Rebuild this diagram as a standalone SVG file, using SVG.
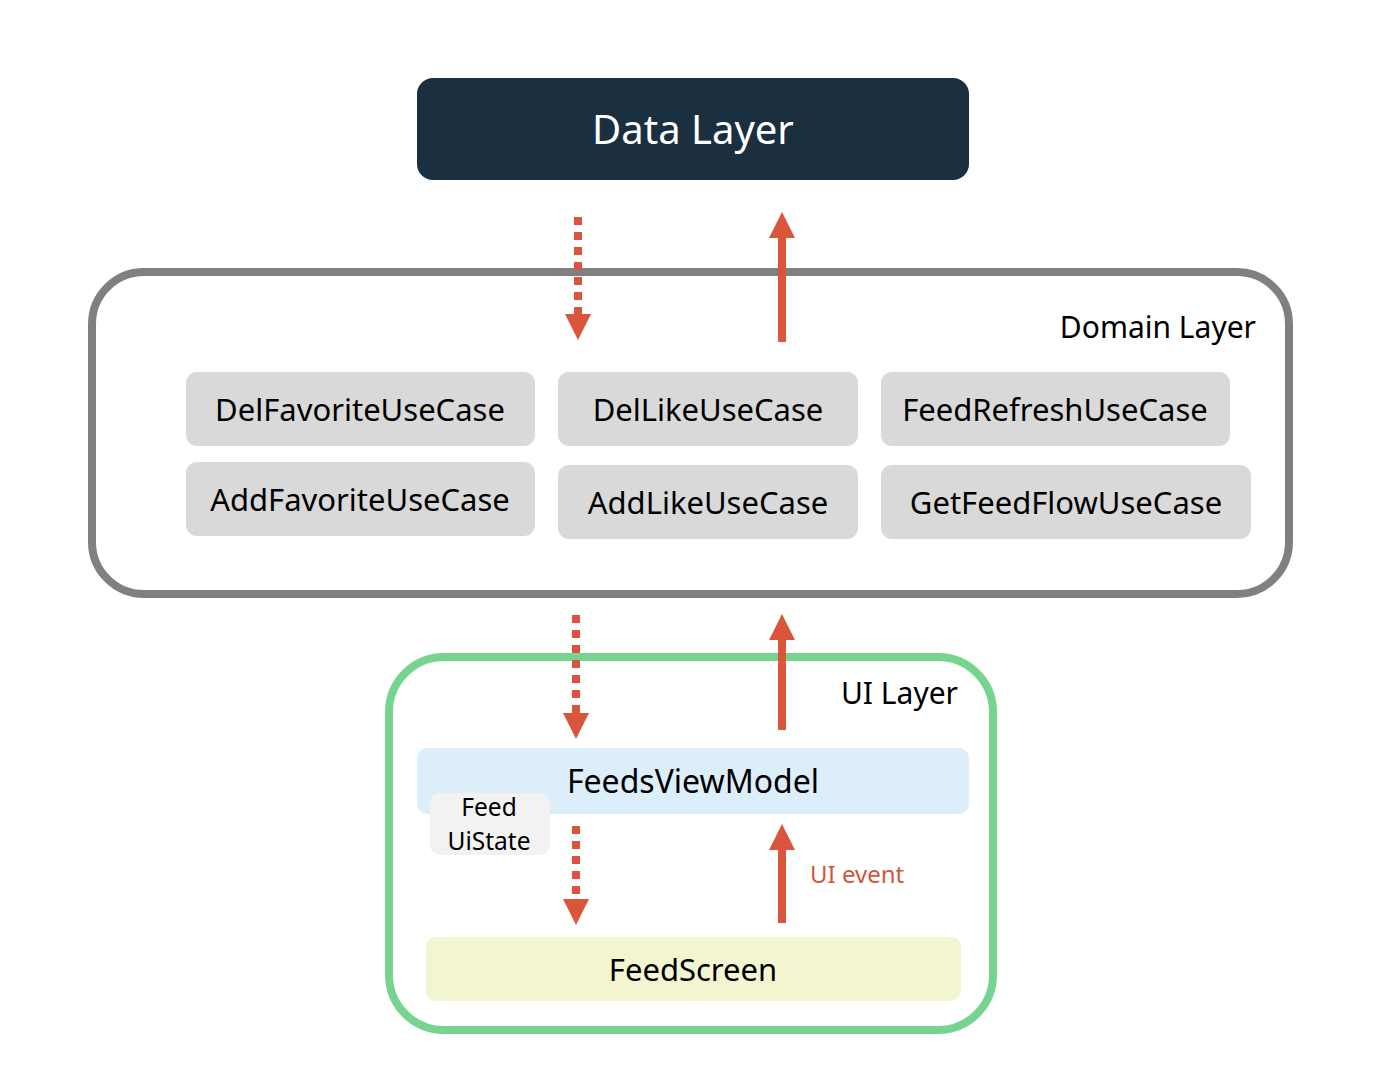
<svg xmlns="http://www.w3.org/2000/svg" width="1385" height="1080" viewBox="0 0 1385 1080">
<defs>
<style>
text{font-family:"Noto Sans","Open Sans",sans-serif;fill:#000;text-anchor:middle}
.uc{fill:#d9d9d9}
.ucT{font-size:31px}
.flow{stroke:#d9553b;stroke-width:8;fill:none}
.dot{stroke-dasharray:8 7}
</style>
<marker id="head" markerUnits="userSpaceOnUse" markerWidth="26" markerHeight="26" refX="0" refY="12" orient="auto" viewBox="0 0 24 24">
<path d="M0,0 L24,12 L0,24 z" fill="#d9553b"/>
</marker>
</defs>
<rect width="1385" height="1080" fill="#fff"/>

<g id="data-layer">
<rect x="417" y="78" width="552" height="102" rx="16" fill="#1a2f40"/>
<text x="693" y="144" style="font-size:40px;fill:#fff">Data Layer</text>
</g>

<g id="domain-layer">
<rect x="92" y="272" width="1197" height="322" rx="52" fill="#fff" stroke="#808080" stroke-width="8"/>
<text x="1256" y="338" style="font-size:30px;text-anchor:end">Domain Layer</text>
</g>

<g id="DelFavoriteUseCase"><rect class="uc" x="186" y="372" width="349" height="74" rx="11"/><text class="ucT" x="360" y="421">DelFavoriteUseCase</text></g>
<g id="AddFavoriteUseCase"><rect class="uc" x="186" y="462" width="349" height="74" rx="11"/><text class="ucT" x="360" y="511">AddFavoriteUseCase</text></g>
<g id="DelLikeUseCase"><rect class="uc" x="558" y="372" width="300" height="74" rx="11"/><text class="ucT" x="708" y="421">DelLikeUseCase</text></g>
<g id="AddLikeUseCase"><rect class="uc" x="558" y="465" width="300" height="74" rx="11"/><text class="ucT" x="708" y="514">AddLikeUseCase</text></g>
<g id="FeedRefreshUseCase"><rect class="uc" x="881" y="372" width="349" height="74" rx="11"/><text class="ucT" x="1055" y="421">FeedRefreshUseCase</text></g>
<g id="GetFeedFlowUseCase"><rect class="uc" x="881" y="465" width="370" height="74" rx="11"/><text class="ucT" x="1066" y="514">GetFeedFlowUseCase</text></g>

<g id="ui-layer">
<rect x="389" y="657" width="604" height="373" rx="55" fill="#fff" stroke="#77d48f" stroke-width="8"/>
<text x="958" y="704" style="font-size:30px;text-anchor:end">UI Layer</text>
</g>

<g id="FeedsViewModel">
<rect x="417" y="748" width="552" height="66" rx="10" fill="#ddeefb"/>
<text x="693" y="793" style="font-size:32px">FeedsViewModel</text>
</g>

<g id="FeedUiState">
<rect x="430" y="793" width="120" height="62" rx="10" fill="#f2f2f2"/>
<text x="489" y="816" style="font-size:24.5px">Feed</text>
<text x="489" y="850" style="font-size:24.5px">UiState</text>
</g>

<g id="FeedScreen">
<rect x="426" y="937" width="535" height="64" rx="10" fill="#f2f5d0"/>
<text x="693" y="981" style="font-size:31px">FeedScreen</text>
</g>

<g id="connectors">
<line class="flow dot" x1="578" y1="217" x2="578" y2="314" marker-end="url(#head)"/>
<line class="flow" x1="782" y1="342" x2="782" y2="238" marker-end="url(#head)"/>
<line class="flow dot" x1="576" y1="615" x2="576" y2="713" marker-end="url(#head)"/>
<line class="flow" x1="782" y1="730" x2="782" y2="640" marker-end="url(#head)"/>
<line class="flow dot" x1="576" y1="826" x2="576" y2="899" marker-end="url(#head)"/>
<line class="flow" x1="782" y1="923" x2="782" y2="850" marker-end="url(#head)"/>
<text x="810" y="883" style="font-size:24px;fill:#d0573d;text-anchor:start">UI event</text>
</g>
</svg>
